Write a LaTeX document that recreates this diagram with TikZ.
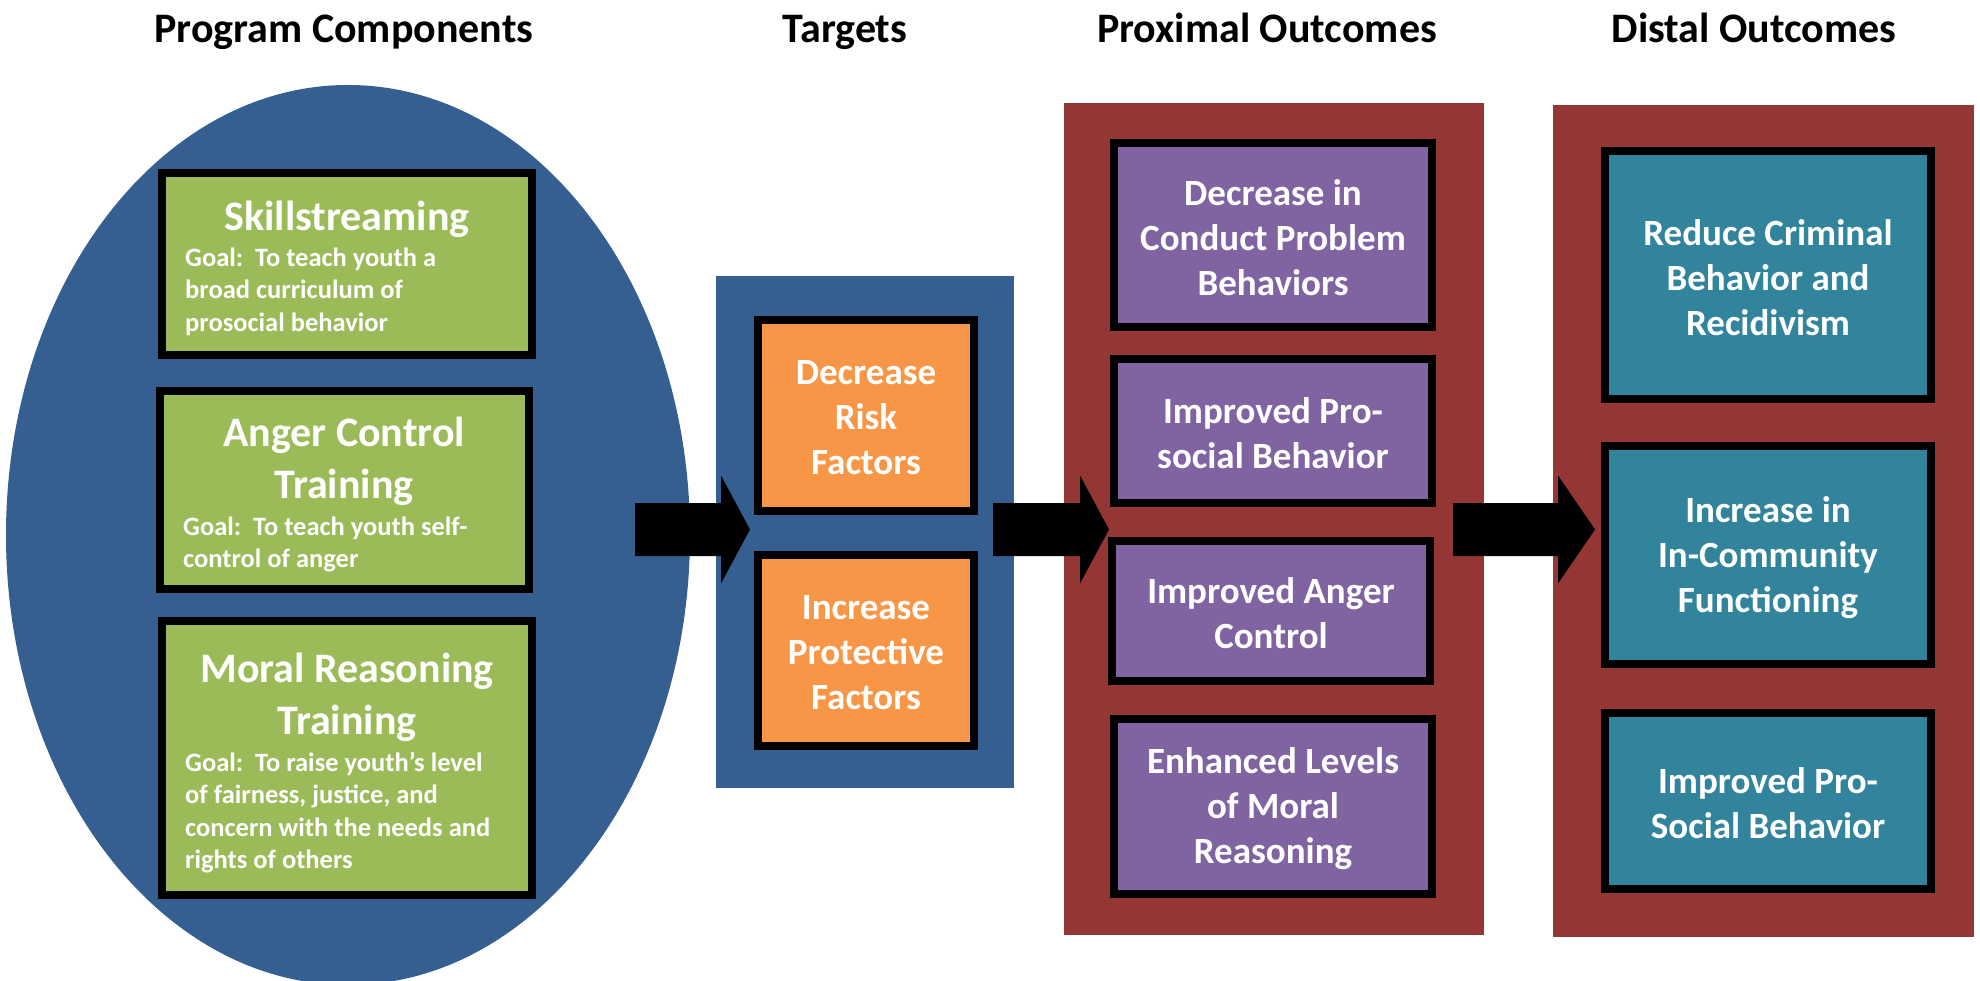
\documentclass[tikz,border=0pt]{standalone}
\usepackage{fontspec}
\setmainfont{Carlito}
\usetikzlibrary{shapes.geometric}

\definecolor{navy}{HTML}{365F91}
\definecolor{leaf}{HTML}{9BBB59}
\definecolor{tang}{HTML}{F79646}
\definecolor{plum}{HTML}{8064A2}
\definecolor{sea}{HTML}{31849B}
\definecolor{brick}{HTML}{943634}

% block arrow: start point, shaft length, head length
\newcommand\blockarr[3]{%
  \fill[black] (#1) ++(0,-26.5) -- ++(#2,0) -- ++(0,-27.5) -- ++(#3,54)
    -- ++(-#3,54) -- ++(0,-27.5) -- ++(-#2,0) -- cycle;}

\begin{document}
\begin{tikzpicture}[x=1pt,y=-1pt,
  colhead/.style={font=\bfseries\fontsize{42}{51}\selectfont, inner sep=0, anchor=base},
  panel/.style={draw=none, inner sep=0, outer sep=0},
  card/.style={draw=black, line width=8pt, inner sep=0, outer sep=0},
  cardtext/.style={text=white, align=center, inner sep=0, yshift=-2.5pt,
    font=\bfseries\fontsize{37}{45}\selectfont},
  gtitle/.style={text=white, font=\bfseries\fontsize{42}{51}\selectfont, inner sep=0, anchor=base},
  goal/.style={text=white, font=\bfseries\fontsize{26.5}{32.5}\selectfont, inner sep=0, anchor=base west}
]
\useasboundingbox[fill=white] (0,0) rectangle (1980,981);

% column headings
\node[colhead] (h1) at (344,43) {Program Components};
\node[colhead] (h2) at (845,43) {Targets};
\node[colhead] (h3) at (1267,43) {Proximal Outcomes};
\node[colhead] (h4) at (1754,43) {Distal Outcomes};

% backgrounds
\node[panel, ellipse, fill=navy, minimum width=684, minimum height=900] (comp) at (348,535) {};
\node[panel, fill=navy, minimum width=298, minimum height=512] (targ) at (865,532) {};
\node[panel, fill=brick, minimum width=420, minimum height=832] (prox) at (1274,519) {};
\node[panel, fill=brick, minimum width=421, minimum height=832] (dist) at (1763.5,521) {};

% program components
\node[card, fill=leaf, minimum width=370, minimum height=182] (g1) at (347,264) {};
\node[card, fill=leaf, minimum width=369, minimum height=198] (g2) at (344.5,490) {};
\node[card, fill=leaf, minimum width=370, minimum height=274] (g3) at (347,758) {};

\node[gtitle] (g1t) at (347,231) {Skillstreaming};
\foreach \t [count=\i] in {Goal:\ \ To teach youth a, broad curriculum of, prosocial behavior}
  \node[goal] (g1l\i) at (185,{267+32*(\i-1)}) {\t};

\node[gtitle] (g2t) at (344,446) {Anger Control};
\node[gtitle] (g2u) at (344,498) {Training};
\foreach \t [count=\i] in {Goal:\ \ To teach youth self-, control of anger}
  \node[goal] (g2l\i) at (183,{535+32*(\i-1)}) {\t};

\node[gtitle] (g3t) at (347,682) {Moral Reasoning};
\node[gtitle] (g3u) at (347,734) {Training};
\foreach \t [count=\i] in {Goal:\ \ To raise youth’s level, {of fairness, justice, and},
    concern with the needs and, rights of others}
  \node[goal] (g3l\i) at (185,{771+32.5*(\i-1)}) {\t};

% targets
\node[card, fill=tang, minimum width=216, minimum height=191] (o1) at (866,415.5) {};
\node[card, fill=tang, minimum width=216, minimum height=191] (o2) at (866,650.5) {};
\node[cardtext] (o1x) at (o1.center) {Decrease\\Risk\\Factors};
\node[cardtext] (o2x) at (o2.center) {Increase\\Protective\\Factors};

% proximal outcomes
\node[card, fill=plum, minimum width=318, minimum height=184] (p1) at (1273,235) {};
\node[card, fill=plum, minimum width=318, minimum height=144] (p2) at (1273,431) {};
\node[card, fill=plum, minimum width=318, minimum height=140] (p3) at (1271,611) {};
\node[card, fill=plum, minimum width=318, minimum height=175] (p4) at (1273,806.5) {};
\node[cardtext] (p1x) at (p1.center) {Decrease in\\Conduct Problem\\Behaviors};
\node[cardtext] (p2x) at (p2.center) {Improved Pro-\\social Behavior};
\node[cardtext] (p3x) at (p3.center) {Improved Anger\\Control};
\node[cardtext] (p4x) at (p4.center) {Enhanced Levels\\of Moral\\Reasoning};

% distal outcomes
\node[card, fill=sea, minimum width=326, minimum height=248] (d1) at (1768,275) {};
\node[card, fill=sea, minimum width=326, minimum height=218] (d2) at (1768,555) {};
\node[card, fill=sea, minimum width=326, minimum height=176] (d3) at (1768,801) {};
\node[cardtext] (d1x) at (d1.center) {Reduce Criminal\\Behavior and\\Recidivism};
\node[cardtext] (d2x) at (d2.center) {Increase in\\In-Community\\Functioning};
\node[cardtext] (d3x) at (d3.center) {Improved Pro-\\Social Behavior};

% flow arrows
\coordinate (a1) at (635,529.5);
\coordinate (a2) at (993,529.5);
\coordinate (a3) at (1453,529.5);
\blockarr{a1}{86}{29}
\blockarr{a2}{87}{29}
\blockarr{a3}{105}{37}
\end{tikzpicture}
\end{document}
